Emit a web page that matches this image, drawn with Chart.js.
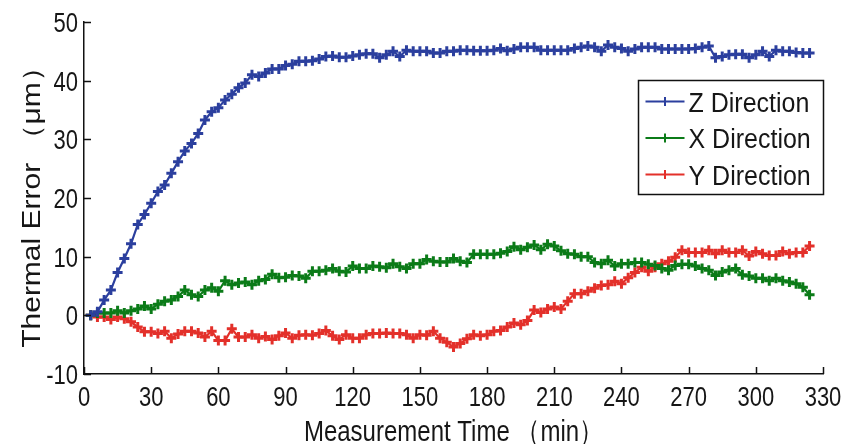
<!DOCTYPE html>
<html>
<head>
<meta charset="utf-8">
<script src="https://cdn.jsdelivr.net/npm/chart.js@4.4.1/dist/chart.umd.min.js"></script>
<style>
  html, body { margin: 0; padding: 0; background: #fff; }
  #wrap { width: 857px; height: 444px; }
</style>
</head>
<body>
<div id="wrap"><canvas id="myChart" width="857" height="444"></canvas></div>
<script>
// measurement times (min)
const times = [3, 6, 9, 12, 15, 18, 21, 24, 27, 30, 33, 36, 39, 42, 45, 48, 51, 54, 57, 60,
    63, 66, 69, 72, 75, 78, 81, 84, 87, 90, 93, 96, 99, 102, 105, 108, 111, 114, 117, 120,
    123, 126, 129, 132, 135, 138, 141, 144, 147, 150, 153, 156, 159, 162, 165, 168, 171, 174, 177, 180,
    183, 186, 189, 192, 195, 198, 201, 204, 207, 210, 213, 216, 219, 222, 225, 228, 231, 234, 237, 240,
    243, 246, 249, 252, 255, 258, 261, 264, 267, 270, 273, 276, 279, 282, 285, 288, 291, 294, 297, 300,
    303, 306, 309, 312, 315, 318, 321, 324];

const zDir = [0, 0.6, 2.6, 4.3, 7.3, 9.7, 12.2, 15.5, 17.2, 19.1, 21.1, 22.2, 24.2, 26.2, 28.0, 29.3, 31.0, 33.3, 34.7, 35.4,
    36.7, 37.7, 38.8, 39.6, 41.0, 40.7, 41.3, 42.0, 42.0, 42.6, 42.8, 43.3, 43.3, 43.4, 43.7, 44.1, 44.2, 44.0, 44.0, 44.2,
    44.4, 44.6, 44.6, 43.9, 44.4, 45.0, 44.1, 45.2, 45.0, 45.0, 45.0, 44.7, 44.7, 45.0, 45.0, 45.2, 45.2, 45.1, 45.1, 45.1,
    45.2, 45.5, 45.1, 45.4, 45.7, 45.7, 45.7, 45.2, 45.2, 45.2, 45.2, 45.2, 45.5, 45.7, 45.9, 45.7, 45.0, 46.1, 45.7, 45.5,
    45.0, 45.4, 45.7, 45.7, 45.7, 45.4, 45.4, 45.4, 45.4, 45.4, 45.5, 45.7, 45.9, 43.9, 44.1, 44.4, 44.5, 44.5, 43.9, 44.4,
    45.0, 44.1, 45.2, 45.0, 45.0, 44.8, 44.7, 44.7];

const xDir = [0, 0.4, 0.4, 0.4, 0.8, 0.4, 0.8, 1.1, 1.6, 1.1, 1.9, 2.4, 2.6, 3.2, 4.3, 3.5, 3.2, 4.3, 4.7, 4.1,
    5.9, 5.2, 5.5, 5.7, 5.2, 5.9, 6.1, 7.0, 6.4, 6.5, 6.8, 6.7, 6.3, 7.5, 7.5, 7.7, 8.0, 7.5, 7.4, 8.4,
    8.0, 8.0, 8.4, 8.3, 8.1, 8.8, 8.3, 8.0, 8.8, 8.8, 9.5, 9.2, 9.1, 9.1, 9.7, 9.2, 9.0, 10.4, 10.4, 10.4,
    10.4, 10.6, 10.9, 11.7, 11.2, 11.6, 12.0, 11.2, 12.1, 11.8, 11.0, 10.5, 10.4, 10.0, 10.0, 9.0, 8.8, 9.4, 8.4, 8.8,
    8.8, 9.0, 9.0, 8.7, 8.5, 8.0, 7.7, 8.5, 8.7, 8.7, 8.4, 8.0, 7.7, 6.8, 7.4, 7.7, 8.0, 6.9, 6.7, 6.3,
    6.3, 5.9, 6.3, 5.9, 5.7, 5.4, 4.8, 3.5];

const yDir = [0, -0.3, -0.3, -0.7, -0.3, -0.6, -1.1, -2.0, -2.8, -2.8, -3.1, -2.7, -3.9, -3.2, -2.7, -2.7, -3.0, -3.7, -2.7, -4.3,
    -4.3, -2.3, -3.7, -3.7, -3.3, -3.9, -3.6, -4.1, -3.5, -3.0, -3.9, -3.4, -3.3, -3.4, -3.1, -2.6, -3.5, -4.1, -3.3, -3.9,
    -3.9, -3.3, -3.1, -3.1, -3.0, -3.1, -3.1, -3.3, -3.9, -3.3, -3.4, -2.7, -3.9, -4.6, -5.4, -4.8, -4.0, -3.3, -3.5, -3.3,
    -2.7, -2.6, -2.0, -1.3, -1.6, -0.9, 0.9, 0.5, 1.1, 1.4, 1.1, 2.4, 3.7, 3.7, 4.1, 4.6, 5.1, 5.2, 5.8, 5.4,
    6.4, 7.3, 8.2, 7.5, 8.2, 8.8, 9.2, 9.9, 11.1, 10.7, 10.7, 10.7, 11.1, 10.5, 11.1, 10.7, 10.7, 11.1, 10.1, 10.9,
    10.5, 10.2, 10.2, 10.9, 10.5, 10.7, 10.7, 11.8];

const seriesNames = ['Z Direction', 'X Direction', 'Y Direction'];
const seriesColors = ['#2B3F9E', '#0B7B18', '#E3302A'];
const xTitle = 'Measurement Time （min）';
const yTitle = 'Thermal Error （μm）';

const textColor = '#161616';
const fontFam = '"Liberation Sans", Arial, sans-serif';

function toPoints(vals) {
    return vals.map((v, i) => ({ x: times[i], y: v }));
}

// the original figure is stretched vertically, so axis text is drawn taller than wide
function stretchedText(ctx, text, x, y, sx, sy, align) {
    ctx.save();
    ctx.translate(x, y);
    ctx.scale(sx, sy);
    ctx.textAlign = align;
    ctx.textBaseline = 'alphabetic';
    ctx.fillText(text, 0, 0);
    ctx.restore();
}

// MATLAB style axes: inward ticks, tall labels, titles
const matlabAxes = {
    id: 'matlabAxes',
    afterDraw(chart) {
        const ctx = chart.ctx;
        const area = chart.chartArea;
        const xs = chart.scales.x, ys = chart.scales.y;
        ctx.save();
        ctx.strokeStyle = '#111';
        ctx.lineWidth = 1.5;
        ctx.beginPath();
        xs.ticks.forEach(t => {
            const px = Math.round(xs.getPixelForValue(t.value)) + 0.5;
            ctx.moveTo(px, area.bottom);
            ctx.lineTo(px, area.bottom - 7);
        });
        ys.ticks.forEach(t => {
            const py = Math.round(ys.getPixelForValue(t.value)) + 0.5;
            ctx.moveTo(area.left, py);
            ctx.lineTo(area.left + 7, py);
        });
        ctx.stroke();

        ctx.fillStyle = textColor;
        ctx.font = '22px ' + fontFam;
        xs.ticks.forEach(t => {
            stretchedText(ctx, String(t.value), xs.getPixelForValue(t.value), area.bottom + 32, 1, 1.25, 'center');
        });
        ys.ticks.forEach(t => {
            stretchedText(ctx, String(t.value), area.left - 6, ys.getPixelForValue(t.value) + 10, 1, 1.25, 'right');
        });

        ctx.font = '24px ' + fontFam;
        stretchedText(ctx, xTitle, (area.left + area.right) / 2, 441, 1, 1.25, 'center');

        ctx.save();
        ctx.translate(40, (area.top + area.bottom) / 2 + 2);
        ctx.rotate(-Math.PI / 2);
        ctx.font = '25px ' + fontFam;
        stretchedText(ctx, yTitle, 0, 0, 1.2, 1, 'center');
        ctx.restore();
        ctx.restore();
    }
};

// boxed legend inside the plot, top right
const boxLegend = {
    id: 'boxLegend',
    afterDraw(chart) {
        const ctx = chart.ctx;
        const area = chart.chartArea;
        const right = Math.round(area.right) + 0.5;
        const left = right - 185;
        const top = 80.5, rowH = 36.5;
        ctx.save();
        ctx.fillStyle = '#fff';
        ctx.fillRect(left, top, right - left, 114);
        ctx.strokeStyle = '#111';
        ctx.lineWidth = 1.5;
        ctx.strokeRect(left, top, right - left, 114);
        chart.data.datasets.forEach((ds, i) => {
            const cy = top + 21 + i * rowH;
            ctx.strokeStyle = ds.borderColor;
            ctx.lineWidth = 2;
            ctx.beginPath();
            ctx.moveTo(left + 7, cy);
            ctx.lineTo(left + 46, cy);
            ctx.moveTo(left + 26.5, cy - 4.5);
            ctx.lineTo(left + 26.5, cy + 4.5);
            ctx.stroke();
            ctx.fillStyle = textColor;
            ctx.font = '25px ' + fontFam;
            stretchedText(ctx, ds.label, left + 50, cy + 10, 1, 1.08, 'left');
        });
        ctx.restore();
    }
};

const datasets = [zDir, xDir, yDir].map((vals, i) => ({
    label: seriesNames[i],
    data: toPoints(vals),
    borderColor: seriesColors[i],
    backgroundColor: seriesColors[i],
    borderWidth: 2.2,
    pointStyle: 'cross',
    pointRadius: 5,
    pointBorderWidth: 3,
    pointHoverRadius: 5,
    tension: 0
}));

const chart = new Chart(document.getElementById('myChart'), {
    type: 'line',
    data: { datasets: datasets },
    options: {
        responsive: false,
        animation: false,
        devicePixelRatio: 1,
        layout: { padding: { top: 22, right: 34, left: 0, bottom: 0 } },
        plugins: {
            legend: { display: false },
            tooltip: { enabled: false }
        },
        scales: {
            x: {
                type: 'linear',
                min: 0,
                max: 330,
                afterFit: s => { s.height = 70; },
                border: { display: true, color: '#111', width: 1.5 },
                grid: { drawOnChartArea: false, drawTicks: false },
                ticks: { stepSize: 30, display: false }
            },
            y: {
                min: -10,
                max: 50,
                afterFit: s => { s.width = 84; },
                border: { display: true, color: '#111', width: 1.5 },
                grid: { drawOnChartArea: false, drawTicks: false },
                ticks: { stepSize: 10, display: false }
            }
        }
    },
    plugins: [matlabAxes, boxLegend]
});
</script>
</body>
</html>
